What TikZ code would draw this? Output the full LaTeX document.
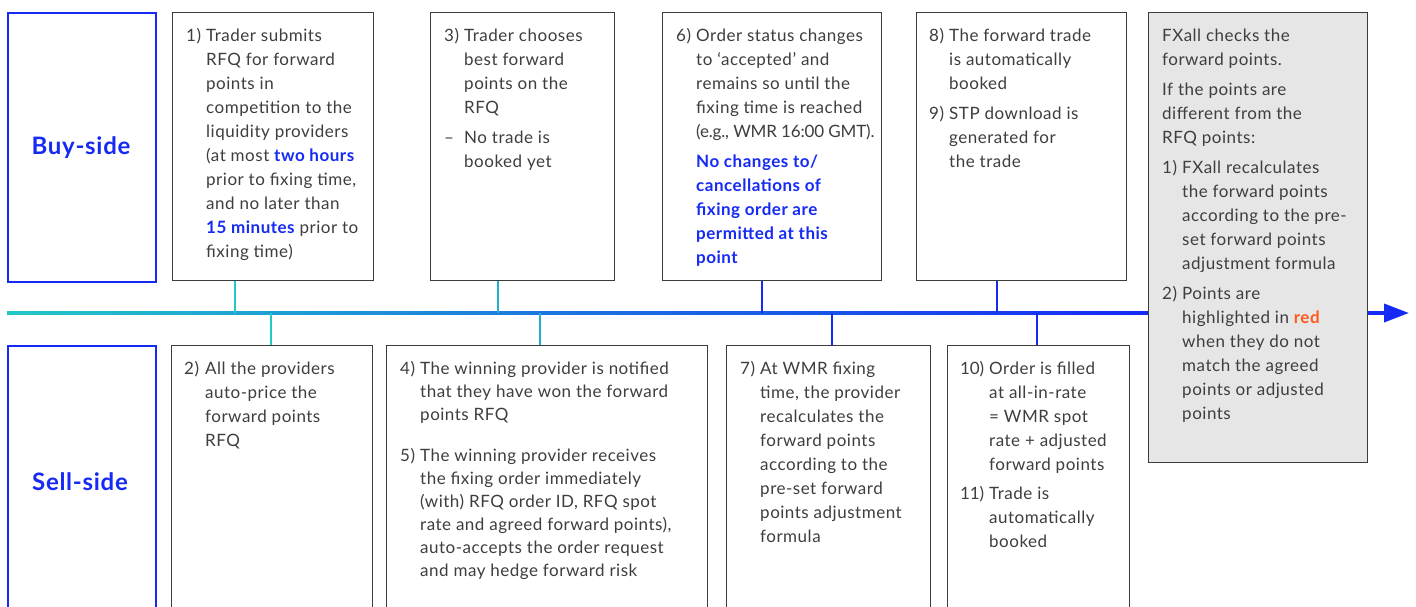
\documentclass[tikz,border=0pt]{standalone}
\usepackage{fontspec}
\setmainfont{Lato}[LetterSpace=3]
\usetikzlibrary{arrows.meta}
\definecolor{txtc}{RGB}{62,62,62}
\definecolor{bluec}{RGB}{22,42,245}
\definecolor{tealc}{RGB}{34,200,200}
\definecolor{redc}{RGB}{255,90,30}
\definecolor{fxgray}{RGB}{230,230,230}
\definecolor{edgec}{RGB}{60,60,60}
\newcommand{\bl}[1]{{\bfseries\color{bluec}#1}}
\newcommand{\tight}[1]{{\addfontfeatures{LetterSpace=-1}#1}}
\newcommand{\tx}[1]{\parbox[t]{280pt}{\raggedright #1}}
\tikzset{
  box/.style={draw=edgec, line width=1.2pt, fill=white, inner sep=0pt, anchor=north west},
  sidebox/.style={draw=bluec, line width=2.2pt, fill=white, inner sep=0pt, anchor=north west},
  sidelabel/.style={font=\fontsize{24}{28}\selectfont\bfseries, text=bluec, inner sep=0pt},
  txt/.style={anchor=base west, inner sep=0pt, text=txtc, font=\fontsize{17}{24}\selectfont},
  txtb/.style={anchor=base west, inner sep=0pt, text=txtc, font=\fontsize{17}{23}\selectfont},
  conn/.style={line width=1.6pt},
}
\begin{document}
\begin{tikzpicture}[x=1pt,y=-1pt]
\useasboundingbox (0,0) rectangle (1416,606);
\clip (0,0) rectangle (1416,606);
% timeline
\shade[left color=tealc, right color=bluec, middle color=tealc!45!bluec] (7,311.2) rectangle (1150,314.8);
\coordinate (tlA) at (1140,313);
\coordinate (tlB) at (1409,313);
\draw[bluec, line width=3.6pt, -{Triangle[length=25pt,width=18pt]}] (tlA) -- (tlB);
% timeline attach points
\coordinate (c1) at (235,313);
\coordinate (c3) at (498,313);
\coordinate (c6) at (762,313);
\coordinate (c8) at (997,313);
\coordinate (c2) at (271,313);
\coordinate (c4) at (540,313);
\coordinate (c7) at (832,313);
\coordinate (c10) at (1037,313);
% side boxes
\node[sidebox, minimum width=148pt, minimum height=269pt] (buy) at (7,12) {};
\node[sidelabel] (buyl) at (81,148) {Buy-side};
\node[sidebox, minimum width=148pt, minimum height=280pt] (sell) at (7,345) {};
\node[sidelabel] (selll) at (80,482) {Sell-side};
% top boxes
\node[box, minimum width=201pt, minimum height=268pt] (b1) at (172,12) {};
\node[box, minimum width=184pt, minimum height=268pt] (b3) at (430,12) {};
\node[box, minimum width=219pt, minimum height=268pt] (b6) at (662,12) {};
\node[box, minimum width=210pt, minimum height=268pt] (b8) at (916,12) {};
\node[box, fill=fxgray, minimum width=219pt, minimum height=450pt] (fx) at (1148,12) {};
% bottom boxes
\node[box, minimum width=201pt, minimum height=280pt] (b2) at (171,345) {};
\node[box, minimum width=321pt, minimum height=280pt] (b4) at (386,345) {};
\node[box, minimum width=204pt, minimum height=280pt] (b7) at (726,345) {};
\node[box, minimum width=182pt, minimum height=280pt] (b10) at (947,345) {};
% connectors
\draw[conn, tealc] (b1.south -| c1) -- (c1);
\draw[conn, tealc!85!bluec] (b3.south -| c3) -- (c3);
\draw[conn, bluec] (b6.south -| c6) -- (c6);
\draw[conn, bluec] (b8.south -| c8) -- (c8);
\draw[conn, tealc] (c2) -- (b2.north -| c2);
\draw[conn, tealc!85!bluec] (c4) -- (b4.north -| c4);
\draw[conn, bluec] (c7) -- (b7.north -| c7);
\draw[conn, bluec] (c10) -- (b10.north -| c10);
% box 1
\node[txt] (n1) at (186,41) {1)};
\node[txt] (t1) at (206,41) {\tx{Trader submits\\RFQ for forward\\points in\\competition to the\\liquidity providers\\(at most \bl{two hours}\\prior to fixing time,\\and no later than\\\bl{15 minutes} prior to\\fixing time)}};
% box 3
\node[txt] (n3) at (444,41) {3)};
\node[txt] (t3) at (464,41) {\tx{Trader chooses\\best forward\\points on the\\RFQ}};
\node[txt] (n3b) at (444,143) {–};
\node[txt] (t3b) at (464,143) {\tx{No trade is\\booked yet}};
% box 6
\node[txt] (n6) at (676,41) {6)};
\node[txt] (t6) at (696,41) {\tx{Order status changes\\to ‘accepted’ and\\remains so until the\\fixing time is reached\\\tight{(e.g., WMR 16:00 GMT).}}};
\node[txt, font=\fontsize{17}{24}\selectfont\bfseries, text=bluec] (t6b) at (696,167) {\tx{No changes to/\\cancellations of\\fixing order are\\permitted at this\\point}};
% box 8
\node[txt] (n8) at (929,41) {8)};
\node[txt] (t8) at (949,41) {\tx{The forward trade\\is automatically\\booked}};
\node[txt] (n9) at (929,119) {9)};
\node[txt] (t9) at (949,119) {\tx{STP download is\\generated for\\the trade}};
% FXall box
\node[txt] (fx1) at (1162,41) {\tx{FXall checks the\\forward points.}};
\node[txt] (fx2) at (1162,95) {\tx{If the points are\\different from the\\RFQ points:}};
\node[txt] (fxn1) at (1162,173) {1)};
\node[txt] (fx3) at (1182,173) {\tx{FXall recalculates\\the forward points\\according to the pre-\\set forward points\\adjustment formula}};
\node[txt] (fxn2) at (1162,299) {2)};
\node[txt] (fx4) at (1182,299) {\tx{Points are\\highlighted in {\bfseries\color{redc}red}\\when they do not\\match the agreed\\points or adjusted\\points}};
% box 2
\node[txt] (n2) at (184,374) {2)};
\node[txt] (t2) at (205,374) {\tx{All the providers\\auto-price the\\forward points\\RFQ}};
% box 4
\node[txtb] (n4) at (400,374) {4)};
\node[txtb] (t4) at (420,374) {\tx{The winning provider is notified\\that they have won the forward\\points RFQ}};
\node[txtb] (n5) at (400,461) {5)};
\node[txtb] (t5) at (420,461) {\tx{The winning provider receives\\the fixing order immediately\\(with) RFQ order ID, RFQ spot\\rate and agreed forward points),\\auto-accepts the order request\\and may hedge forward risk}};
% box 7
\node[txt] (n7) at (740,374) {7)};
\node[txt] (t7) at (760,374) {\tx{At WMR fixing\\time, the provider\\recalculates the\\forward points\\according to the\\pre-set forward\\points adjustment\\formula}};
% box 10
\node[txt] (n10) at (960,374) {\tight{10)}};
\node[txt] (t10) at (989,374) {\tx{Order is filled\\at all-in-rate\\= WMR spot\\rate + adjusted\\forward points}};
\node[txt] (n11) at (960,499) {\tight{11)}};
\node[txt] (t11) at (989,499) {\tx{Trade is\\automatically\\booked}};
\end{tikzpicture}
\end{document}
